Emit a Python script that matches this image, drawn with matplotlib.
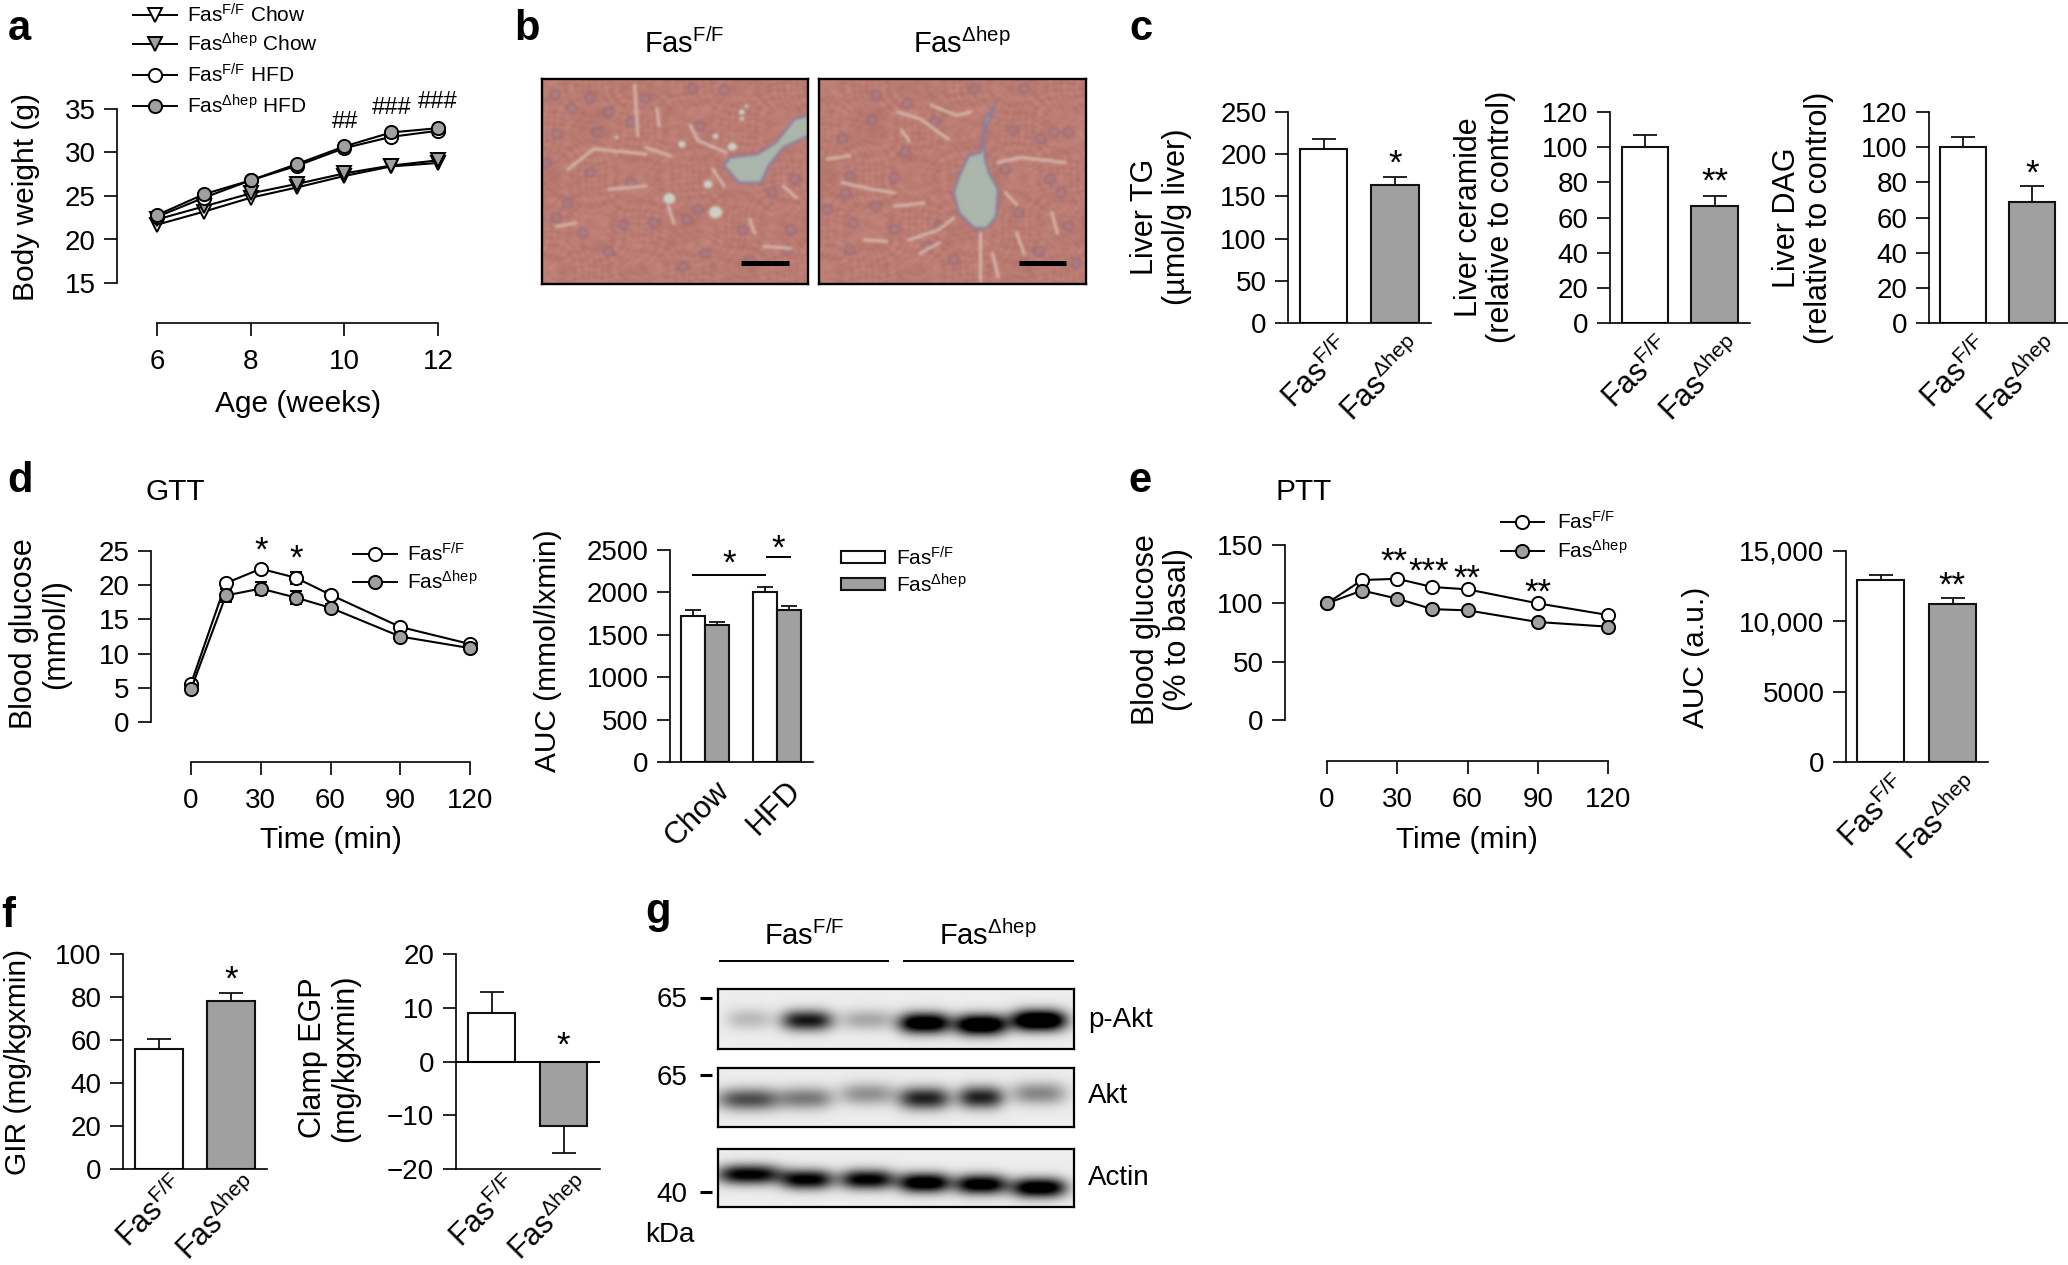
import numpy as np
import matplotlib
matplotlib.use('Agg')
import matplotlib.pyplot as plt
from matplotlib.patches import Polygon, Circle, Rectangle
from matplotlib.transforms import ScaledTranslation

plt.rcParams['font.family'] = ['Liberation Sans', 'DejaVu Sans']
plt.rcParams['mathtext.fontset'] = 'custom'
plt.rcParams['mathtext.rm'] = 'Liberation Sans'
plt.rcParams['mathtext.default'] = 'rm'
plt.rcParams['axes.linewidth'] = 1.2

W, H = 2068, 1265
FF = 'Fas$^{F/F}$'
HEP = 'Fas$^{\u0394hep}$'
GRAY = '#a0a0a0'
FS = 20
LAB = 21.5
STAR = 25

# panel a
age = [6, 7, 8, 9, 10, 11, 12]
chow_ff = [21.7, 23.2, 24.8, 26.0, 27.3, 28.4, 28.8]
chow_hep = [22.3, 23.8, 25.3, 26.4, 27.6, 28.5, 29.1]
hfd_ff = [22.6, 24.8, 26.8, 28.5, 30.5, 31.8, 32.5]
hfd_hep = [22.8, 25.2, 26.8, 28.7, 30.7, 32.3, 32.8]
hfd_ff_err = [0.3, 0.4, 0.3, 0.3, 0.5, 0.5, 0.5]

# panel d, e
gtt_time = [0, 15, 30, 45, 60, 90, 120]
gtt_ff = [5.6, 20.3, 22.4, 21.1, 18.6, 13.9, 11.4]
gtt_hep = [4.8, 18.5, 19.5, 18.2, 16.7, 12.5, 10.8]
gtt_ff_err = [0.3, 0.5, 0.3, 0.9, 0.6, 0.5, 0.4]
gtt_hep_err = [0.3, 0.9, 1.0, 0.9, 0.6, 0.5, 0.4]
ptt_ff = [100, 120, 121, 114, 112, 100, 90]
ptt_hep = [100, 111, 104, 95, 94, 84, 80]

auc_groups = ['Chow', 'HFD']
auc_gtt_ff = [1720, 2010]
auc_gtt_hep = [1620, 1790]
auc_gtt_ff_err = [70, 55]
auc_gtt_hep_err = [30, 55]
auc_ptt = [12950, 11250]
auc_ptt_err = [350, 400]

# panel c, f
liver_tg = [206, 164]
liver_tg_err = [12, 9]
liver_cer = [100, 66.5]
liver_cer_err = [7, 6]
liver_dag = [100, 69]
liver_dag_err = [6, 9]
gir = [56, 78]
gir_err = [4.5, 4]
egp = [9, -12]
egp_err = [4, 5]

vein_ff = [(779, 290), (740, 300), (690, 370), (640, 405), (565, 415), (550, 440), (590, 490), (650, 490), (670, 440), (710, 385), (779, 350)]
vein_hep = [(1285, 260), (1262, 310), (1250, 360), (1255, 420), (1265, 460), (1290, 510), (1285, 590), (1260, 625), (1225, 625), (1185, 580), (1170, 520), (1185, 470), (1210, 410), (1243, 400), (1255, 300)]
vacuoles_ff = [(403, 537, 16), (527, 578, 18), (507, 495, 12), (437, 376, 10), (572, 383, 12), (527, 352, 8), (598, 280, 8), (598, 300, 6), (262, 355, 5), (610, 262, 5)]
sinus_ff = [[(310, 200), (318, 350)], [(370, 270), (375, 320)], [(130, 450), (200, 390), (340, 405)], [(340, 385), (405, 410)],
            [(460, 320), (480, 365), (555, 400)], [(520, 450), (550, 500)], [(240, 510), (340, 500)], [(710, 500), (745, 535)],
            [(620, 600), (632, 640)], [(100, 620), (150, 610)], [(660, 680), (730, 685)], [(400, 560), (415, 610)]]
sinus_hep = [[(1020, 280), (1080, 300), (1155, 360)], [(1110, 260), (1180, 290), (1215, 280)], [(1030, 335), (1050, 365)],
             [(830, 420), (890, 410)], [(870, 490), (950, 510), (1010, 520)], [(1010, 560), (1090, 550)], [(1050, 660), (1130, 630), (1170, 595)],
             [(1080, 700), (1130, 670)], [(1290, 430), (1350, 415), (1470, 430)], [(1310, 520), (1340, 555)], [(1435, 580), (1450, 640)],
             [(930, 660), (990, 665)], [(1240, 640), (1240, 780)], [(1275, 700), (1290, 770)], [(1340, 640), (1360, 700)]]
nuclei_ff = [(190, 238), (140, 270), (95, 228), (340, 240), (465, 210), (550, 215), (485, 322), (240, 280), (300, 310), (210, 340),
             (100, 345), (70, 430), (190, 460), (300, 490), (130, 550), (280, 615), (100, 595), (240, 695), (440, 740), (600, 630),
             (730, 630), (680, 520), (740, 480), (720, 690), (450, 600), (480, 570), (360, 610), (170, 640), (620, 720), (500, 700)]
nuclei_hep = [(1045, 255), (950, 305), (1010, 475), (890, 470), (870, 360), (880, 520), (1010, 630), (960, 560), (830, 570), (890, 690),
              (1100, 680), (1360, 210), (1330, 335), (1405, 360), (1480, 340), (1440, 340), (1460, 520), (1345, 580), (1400, 695), (1130, 620),
              (1310, 450), (1225, 210), (1120, 310), (1480, 620), (960, 230), (1430, 480), (1040, 400), (900, 610), (1170, 720), (1500, 730)]

# western blot bands: lane centre, half width, band centre, strength (crop coordinates)
blot_x = [310, 462, 620, 770, 918, 1070]
pakt_w = [60, 68, 68, 68, 68, 72]
pakt_y = [388, 392, 390, 400, 405, 392]
pakt_s = [0.22, 0.95, 0.3, 1.3, 1.4, 1.5]
akt_w = [85, 68, 72, 68, 60, 72]
akt_y = [628, 625, 612, 625, 622, 610]
akt_s = [0.7, 0.5, 0.4, 0.9, 0.9, 0.45]
actin_w = [85, 68, 72, 68, 68, 72]
actin_y = [855, 870, 870, 880, 885, 895]
actin_s = [1.1, 1.1, 1.1, 1.25, 1.2, 1.25]

fig = plt.figure(figsize=(W / 100, H / 100), dpi=100)

def px_axes(l, r, t, b):
    return fig.add_axes([l / W, 1 - b / H, (r - l) / W, (b - t) / H])

# overlay in pixel coordinates for the free text
ov = px_axes(0, W, 0, H)
ov.set_xlim(0, W)
ov.set_ylim(H, 0)
ov.axis('off')
ov.set_zorder(10)

def txt(x, y, s, size=FS, ha='center', va='center', **kw):
    ov.text(x, y, s, fontsize=size, ha=ha, va=va, **kw)

def style(ax, yticks, ylabels=None):
    ax.patch.set_alpha(0)
    ax.spines['top'].set_visible(False)
    ax.spines['right'].set_visible(False)
    ax.set_yticks(yticks)
    if ylabels is not None:
        ax.set_yticklabels(ylabels)
    ax.tick_params(axis='y', length=9.4, width=1.2, labelsize=FS, pad=6)
    ax.tick_params(axis='x', length=9.4, width=1.2, labelsize=FS, pad=9)

def line_axes(box, xlim, ylim, xticks, yticks, off_l, off_b):
    ax = px_axes(*box)
    ax.set_xlim(*xlim)
    ax.set_ylim(*ylim)
    style(ax, yticks)
    ax.set_xticks(xticks)
    ax.spines['left'].set_position(('outward', off_l * 0.72))
    ax.spines['bottom'].set_position(('outward', off_b * 0.72))
    return ax

def series(ax, x, y, fc, marker='o', err=None, ms=9.5):
    ax.errorbar(x, y, yerr=err, color='k', lw=1.5, elinewidth=1.3, capsize=4, marker=marker, ms=ms,
                mfc=fc, mec='k', mew=1.4, clip_on=False)

def tilt_labels(ax, labels, size, dx, pad=10):
    ax.set_xticklabels(labels, rotation=45, ha='right', va='top', rotation_mode='anchor', fontsize=size)
    ax.tick_params(axis='x', length=0, pad=pad)
    shift = ScaledTranslation(dx / 100, 0, fig.dpi_scale_trans)
    for lab in ax.get_xticklabels():
        lab.set_transform(lab.get_transform() + shift)

def bar_axes(box, x0, step, width, vals, errs, ylim, yticks, ylabels=None, pad=7):
    ax = px_axes(*box)
    ax.set_xlim((box[0] - x0) / step, (box[1] - x0) / step)
    ax.set_ylim(*ylim)
    style(ax, yticks, ylabels)
    pos = np.arange(len(vals))
    ax.bar(pos, vals, width=width / step, color=['white', GRAY], edgecolor='#111111', linewidth=1.5)
    for p, v, e in zip(pos, vals, errs):
        yerr = [[0], [e]] if v > 0 else [[e], [0]]
        ax.errorbar([p], [v], yerr=yerr, color='#111111', elinewidth=1.3, capsize=8.5, capthick=1.3)
    ax.set_xticks(pos)
    tilt_labels(ax, [FF, HEP], 22, 12, pad=pad)
    return ax

# panel letters
for x, y, s in [(8, 40, 'a'), (514, 40, 'b'), (1129, 40, 'c'), (7, 492, 'd'), (1128, 492, 'e'), (1, 927, 'f'), (645, 923, 'g')]:
    txt(x, y, s, size=30, ha='left', va='baseline', fontweight='bold')

# a
ax = line_axes((157, 438, 109, 283), (6, 12), (15, 35), [6, 8, 10, 12], [15, 20, 25, 30, 35], 40, 40)
series(ax, age, chow_ff, 'white', 'v')
series(ax, age, chow_hep, GRAY, 'v')
series(ax, age, hfd_ff, 'white', 'o', hfd_ff_err)
series(ax, age, hfd_hep, GRAY, 'o')
txt(26, 197, 'Body weight (g)', size=LAB, rotation=90)
txt(298, 404, 'Age (weeks)', size=LAB)
for x, y, s in [(345, 122, '##'), (392, 108, '###'), (438, 102, '###')]:
    txt(x, y, s, size=17)
leg_rows = [(15, 'white', 'v', FF + ' Chow'), (44, GRAY, 'v', HEP + ' Chow'), (75, 'white', 'o', FF + ' HFD'), (106, GRAY, 'o', HEP + ' HFD')]
for y, fc, m, lab in leg_rows:
    ov.plot([133, 177], [y, y], color='k', lw=1.4)
    ov.plot([155], [y], color='k', marker=m, ms=9.5, mfc=fc, mec='k', mew=1.4, zorder=3)
    txt(187, y, lab, size=15, ha='left')

# b histology: drawn once off screen, softened, then shown as an image
def soften(img, n=3):
    k = np.array([1, 2, 1]) / 4
    for _ in range(n):
        for axis in (0, 1):
            img = np.apply_along_axis(lambda r: np.convolve(np.pad(r, 1, mode='edge'), k, mode='valid'), axis, img)
    return img

def histology(box, xlim, vein, sinus, nuclei, vac, bar):
    wpx, hpx = box[1] - box[0], box[3] - box[2]
    tmp = plt.figure(figsize=(wpx / 100, hpx / 100), dpi=100)
    a = tmp.add_axes([0, 0, 1, 1])
    xx, yy = np.meshgrid(np.linspace(0, 1, wpx), np.linspace(0, 1, hpx))
    # grainy tissue look, not data
    mott = np.sin(130 * xx + 9 * np.sin(13 * yy)) * np.sin(110 * yy + 8 * np.sin(17 * xx))
    mott += 0.8 * np.sin(47 * xx + 6 * np.sin(29 * yy)) * np.sin(39 * yy + 5 * np.sin(23 * xx))
    base = np.array([187, 124, 116]) / 255
    a.imshow(np.clip(base[None, None, :] + 0.03 * mott[:, :, None], 0, 1), extent=(xlim[0], xlim[1], 792, 178), aspect='auto', zorder=0)
    for cx, cy in nuclei:
        a.add_patch(Circle((cx, cy), 14, fc='#a97a80', ec='#8f6478', lw=1.2, alpha=0.6, zorder=1))
    for pts in sinus:
        xs, ys = zip(*pts)
        a.plot(xs, ys, color='#d9bdb1', lw=2.2, alpha=0.9, zorder=2)
    a.add_patch(Polygon(vein, fc='#abb7ad', ec='#8f7d98', lw=1.8, zorder=3))
    for cx, cy, r in vac:
        a.add_patch(Circle((cx, cy), r, fc='#cdd1c4', ec='none', zorder=3))
    a.set_xlim(*xlim)
    a.set_ylim(792, 178)
    a.axis('off')
    tmp.canvas.draw()
    img = np.asarray(tmp.canvas.buffer_rgba())[:, :, :3] / 255
    plt.close(tmp)
    ax = px_axes(*box)
    ax.imshow(soften(img), extent=(xlim[0], xlim[1], 792, 178), aspect='auto', zorder=0)
    ax.plot(bar, [729, 729], color='k', lw=3.6, solid_capstyle='butt', zorder=4)
    ax.set_xlim(*xlim)
    ax.set_ylim(792, 178)
    ax.set_xticks([])
    ax.set_yticks([])
    for s in ax.spines.values():
        s.set_linewidth(1.7)

histology((542, 808, 79, 284), (60, 779), vein_ff, sinus_ff, nuclei_ff, vacuoles_ff, [598, 727])
histology((819, 1086, 79, 284), (807, 1527), vein_hep, sinus_hep, nuclei_hep, [], [1345, 1472])
txt(684, 44, FF, size=21)
txt(962, 44, HEP, size=21)

# c
t_ticks = [0, 20, 40, 60, 80, 100, 120]
bar_axes((1288, 1431, 112, 323), 1323.5, 71.5, 47.5, liver_tg, liver_tg_err, (0, 250), [0, 50, 100, 150, 200, 250])
bar_axes((1610, 1750, 112, 323), 1645, 69.5, 46.5, liver_cer, liver_cer_err, (0, 120), t_ticks)
bar_axes((1929, 2068, 112, 323), 1963, 69, 46, liver_dag, liver_dag_err, (0, 120), t_ticks)
txt(1161, 217, 'Liver TG\n(\u00b5mol/g liver)', size=22, rotation=90, linespacing=1.1)
txt(1485, 217, 'Liver ceramide\n(relative to control)', size=22, rotation=90, linespacing=1.1)
txt(1803, 218, 'Liver DAG\n(relative to control)', size=22, rotation=90, linespacing=1.1)
for x, y, s in [(1395, 164, '*'), (1715, 182, '**'), (2032, 174, '*')]:
    txt(x, y, s, size=STAR)

# d
txt(175, 492, 'GTT', size=LAB)
ax = line_axes((191, 470, 551, 722), (0, 120), (0, 25), [0, 30, 60, 90, 120], [0, 5, 10, 15, 20, 25], 40, 40)
series(ax, gtt_time, gtt_ff, 'white', 'o', gtt_ff_err)
series(ax, gtt_time, gtt_hep, GRAY, 'o', gtt_hep_err)
txt(40, 634, 'Blood glucose\n(mmol/l)', size=22, rotation=90, linespacing=1.1)
txt(331, 840, 'Time (min)', size=LAB)
for x, y in [(261, 551), (296, 559)]:
    txt(x, y, '*', size=STAR)
for y, fc, lab in [(554, 'white', FF), (582, GRAY, HEP)]:
    ov.plot([353, 397], [y, y], color='k', lw=1.4)
    ov.plot([375], [y], marker='o', ms=9.5, mfc=fc, mec='k', mew=1.4, color='k')
    txt(407, y, lab, size=15, ha='left')

ax = px_axes(670, 813, 550, 762)
ax.set_xlim((670 - 705) / 72, (813 - 705) / 72)
ax.set_ylim(0, 2500)
style(ax, [0, 500, 1000, 1500, 2000, 2500])
w = 24 / 72
gx = np.arange(len(auc_groups))
ax.bar(gx - w / 2, auc_gtt_ff, w, color='white', edgecolor='#111111', linewidth=1.5)
ax.bar(gx + w / 2, auc_gtt_hep, w, color=GRAY, edgecolor='#111111', linewidth=1.5)
for xs, v, e in [(gx - w / 2, auc_gtt_ff, auc_gtt_ff_err), (gx + w / 2, auc_gtt_hep, auc_gtt_hep_err)]:
    ax.errorbar(xs, v, yerr=[[0, 0], e], fmt='none', ecolor='#111111', elinewidth=1.3, capsize=5.5, capthick=1.3)
ax.set_xticks(gx)
tilt_labels(ax, auc_groups, 22, 9)
txt(548, 651, 'AUC (mmol/lxmin)', size=LAB, rotation=90)
ov.plot([693, 765], [575, 575], color='k', lw=1.4)
ov.plot([767, 790], [557, 557], color='k', lw=1.4)
txt(729, 564, '*', size=STAR)
txt(778, 549, '*', size=STAR)
for y0, fc, lab in [(551, 'white', FF), (578, GRAY, HEP)]:
    ov.add_patch(Rectangle((841, y0), 44, 12, fc=fc, ec='#111111', lw=1.5))
    txt(896, y0 + 7, lab, size=15, ha='left')

# e
txt(1304, 492, 'PTT', size=LAB)
ax = line_axes((1327, 1608, 545, 720), (0, 120), (0, 150), [0, 30, 60, 90, 120], [0, 50, 100, 150], 42, 41)
series(ax, gtt_time, ptt_ff, 'white')
series(ax, gtt_time, ptt_hep, GRAY)
txt(1162, 630, 'Blood glucose\n(% to basal)', size=22, rotation=90, linespacing=1.1)
txt(1467, 840, 'Time (min)', size=LAB)
for x, y, s in [(1394, 562, '**'), (1429, 572, '***'), (1467, 579, '**'), (1538, 593, '**')]:
    txt(x, y, s, size=STAR)
for y, fc, lab in [(522, 'white', FF), (551, GRAY, HEP)]:
    ov.plot([1501, 1544], [y, y], color='k', lw=1.4)
    ov.plot([1522], [y], marker='o', ms=9.5, mfc=fc, mec='k', mew=1.4, color='k')
    txt(1557, y, lab, size=15, ha='left')
bar_axes((1846, 1988, 551, 762), 1880.5, 72, 47, auc_ptt, auc_ptt_err, (0, 15000), [0, 5000, 10000, 15000], ['0', '5000', '10,000', '15,000'])
txt(1696, 657, 'AUC (a.u.)', size=LAB, rotation=90)
txt(1952, 586, '**', size=STAR)

# f
bar_axes((123, 267, 954, 1169), 159, 72, 48, gir, gir_err, (0, 100), [0, 20, 40, 60, 80, 100], pad=2)
txt(18, 1062, 'GIR (mg/kgxmin)', size=LAB, rotation=90)
txt(231, 980, '*', size=STAR)
ax = bar_axes((455.5, 600, 954, 1169), 491.5, 72, 47, egp, egp_err, (-20, 20), [-20, -10, 0, 10, 20], ['\u221220', '\u221210', '0', '10', '20'], pad=2)
ax.axhline(0, color='k', lw=1.4, zorder=3)
txt(329, 1058, 'Clamp EGP\n(mg/kgxmin)', size=22, rotation=90, linespacing=1.1)
txt(563, 1046, '*', size=STAR)

# g western blot
def blot(top, bot, widths, centres, strengths, sig):
    ax = px_axes(718, 1074, 890 + top / 3, 890 + bot / 3)
    X, Y = np.meshgrid(np.linspace(229, 1161, 360), np.linspace(top, bot, 60))
    img = np.full(X.shape, 0.93)
    for cx, hw, cy, s in zip(blot_x, widths, centres, strengths):
        img -= 0.9 * s * np.exp(-np.abs((X - cx) / hw) ** 3) * np.exp(-((Y - cy) / sig) ** 2)
    ax.imshow(np.clip(img, 0, 1), cmap='gray', vmin=0, vmax=1, aspect='auto', interpolation='bilinear')
    ax.set_xticks([])
    ax.set_yticks([])
    for s in ax.spines.values():
        s.set_linewidth(1.6)

blot(298, 477, pakt_w, pakt_y, pakt_s, 32)
blot(535, 710, akt_w, akt_y, akt_s, 34)
blot(776, 952, actin_w, actin_y, actin_s, 30)
txt(804, 936, FF, size=21)
txt(988, 936, HEP, size=21)
ov.plot([720, 888], [961, 961], color='k', lw=1.4)
ov.plot([904, 1073], [961, 961], color='k', lw=1.4)
for ty, ly, s in [(998, 1000, '65'), (1075, 1078, '65'), (1192, 1195, '40')]:
    ov.plot([700, 712], [ty, ty], color='k', lw=2.2, solid_capstyle='butt')
    txt(687, ly, s, ha='right')
txt(645, 1235, 'kDa', ha='left')
txt(1088, 1020, 'p-Akt', ha='left')
txt(1088, 1096, 'Akt', ha='left')
txt(1088, 1178, 'Actin', ha='left')

fig.savefig('out.png', dpi=100)
